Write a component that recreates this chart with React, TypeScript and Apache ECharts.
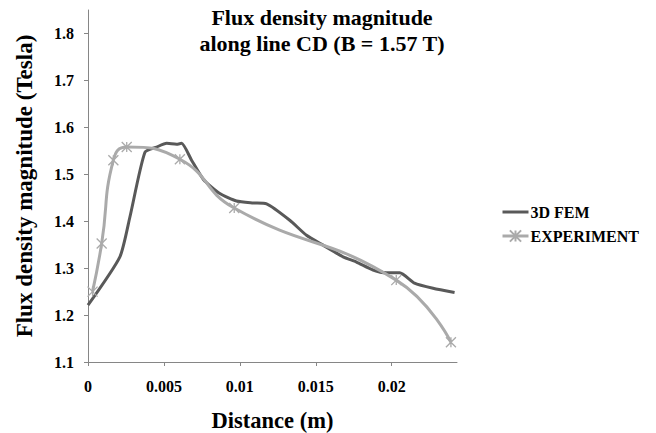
import React, { useEffect, useRef } from 'react';
import * as echarts from 'echarts';

const femDistance = [0, 0.0021, 0.00276, 0.00375, 0.00452, 0.00518, 0.00583, 0.00616, 0.00682, 0.0076, 0.00868, 0.00978, 0.01088, 0.01176, 0.01329, 0.01439, 0.01548, 0.0168, 0.01768, 0.01877, 0.01965, 0.02053, 0.0215, 0.02272, 0.02414];
const femFlux = [1.221, 1.324, 1.409, 1.547, 1.558, 1.566, 1.564, 1.566, 1.53, 1.489, 1.459, 1.443, 1.439, 1.437, 1.402, 1.37, 1.349, 1.324, 1.313, 1.296, 1.29, 1.29, 1.268, 1.257, 1.248];

const expDistance = [0.0003, 0.0009, 0.00167, 0.00255, 0.00605, 0.00963, 0.0203, 0.0239];
const expFlux = [1.25, 1.3525, 1.53, 1.558, 1.532, 1.428, 1.2745, 1.142];

const xTicks = [0, 0.005, 0.01, 0.015, 0.02];
const yTicks = [1.1, 1.2, 1.3, 1.4, 1.5, 1.6, 1.7, 1.8];

const FONT = 'Liberation Serif';
const AXIS_COLOR = '#868686';
const FEM_COLOR = '#595959';
const EXP_COLOR = '#aaaaaa';

export default function App() {
  const ref = useRef<HTMLDivElement>(null);
  useEffect(() => {
    const chart = echarts.init(ref.current as HTMLDivElement, null, { renderer: 'svg' });
    chart.setOption({
      animation: false,
      backgroundColor: '#ffffff',
      textStyle: { fontFamily: FONT },
      title: {
        text: 'Flux density magnitude\nalong line CD (B = 1.57 T)',
        left: 322,
        top: 4,
        textAlign: 'center',
        padding: 0,
        textStyle: { fontFamily: FONT, fontWeight: 'bold', fontSize: 22, lineHeight: 26, color: '#000' },
      },
      legend: {
        orient: 'vertical',
        left: 501,
        top: 204,
        itemWidth: 26,
        itemHeight: 14,
        itemGap: 8,
        padding: 0,
        lineStyle: { width: 3 },
        textStyle: { fontFamily: FONT, fontWeight: 'bold', fontSize: 16, color: '#000', padding: [0, 0, 0, -3] },
        data: ['3D FEM', 'EXPERIMENT'],
      },
      grid: { left: 88, right: 199, top: 10, bottom: 71, containLabel: false, outerBoundsMode: 'none' },
      xAxis: {
        type: 'value',
        min: 0,
        max: 0.0243,
        name: 'Distance (m)',
        nameLocation: 'middle',
        nameGap: 47,
        nameTextStyle: { fontFamily: FONT, fontWeight: 'bold', fontSize: 22.5, color: '#000' },
        axisLine: { show: true, lineStyle: { color: AXIS_COLOR, width: 1 } },
        axisTick: { show: true, length: 4, lineStyle: { color: AXIS_COLOR }, customValues: xTicks },
        axisLabel: { fontFamily: FONT, fontWeight: 'bold', fontSize: 16, color: '#000', margin: 16, customValues: xTicks },
        splitLine: { show: false },
      },
      yAxis: {
        type: 'value',
        min: 1.1,
        max: 1.85,
        name: 'Flux density magnitude (Tesla)',
        nameLocation: 'middle',
        nameRotate: 90,
        nameGap: 52,
        nameTextStyle: { fontFamily: FONT, fontWeight: 'bold', fontSize: 23, color: '#000' },
        axisLine: { show: true, lineStyle: { color: AXIS_COLOR, width: 1 } },
        axisTick: { show: true, length: 4, lineStyle: { color: AXIS_COLOR }, customValues: yTicks },
        axisLabel: { fontFamily: FONT, fontWeight: 'bold', fontSize: 16, color: '#000', margin: 14, customValues: yTicks },
        splitLine: { show: false },
      },
      series: [
        {
          name: '3D FEM',
          type: 'line',
          data: femDistance.map((d, i) => [d, femFlux[i]]),
          symbol: 'rect',
          symbolSize: 1,
          showSymbol: false,
          smooth: 0.2,
          itemStyle: { color: 'rgba(0,0,0,0)', borderWidth: 0 },
          lineStyle: { color: FEM_COLOR, width: 3 },
          z: 2,
        },
        {
          name: 'EXPERIMENT',
          type: 'line',
          data: expDistance.map((d, i) => [d, expFlux[i]]),
          symbol: 'path://M0,0L10,10M10,0L0,10M5,0L5,10',
          symbolSize: 10,
          showSymbol: true,
          smooth: 0.5,
          color: EXP_COLOR,
          itemStyle: { color: EXP_COLOR, borderColor: EXP_COLOR, borderWidth: 1.3 },
          lineStyle: { color: EXP_COLOR, width: 3 },
          z: 3,
        },
      ],
    });
    return () => chart.dispose();
  }, []);
  return (
    <div
      ref={ref}
      style={{ position: 'absolute', left: 0, top: 0, width: 656, height: 433, background: '#fff' }}
    />
  );
}
